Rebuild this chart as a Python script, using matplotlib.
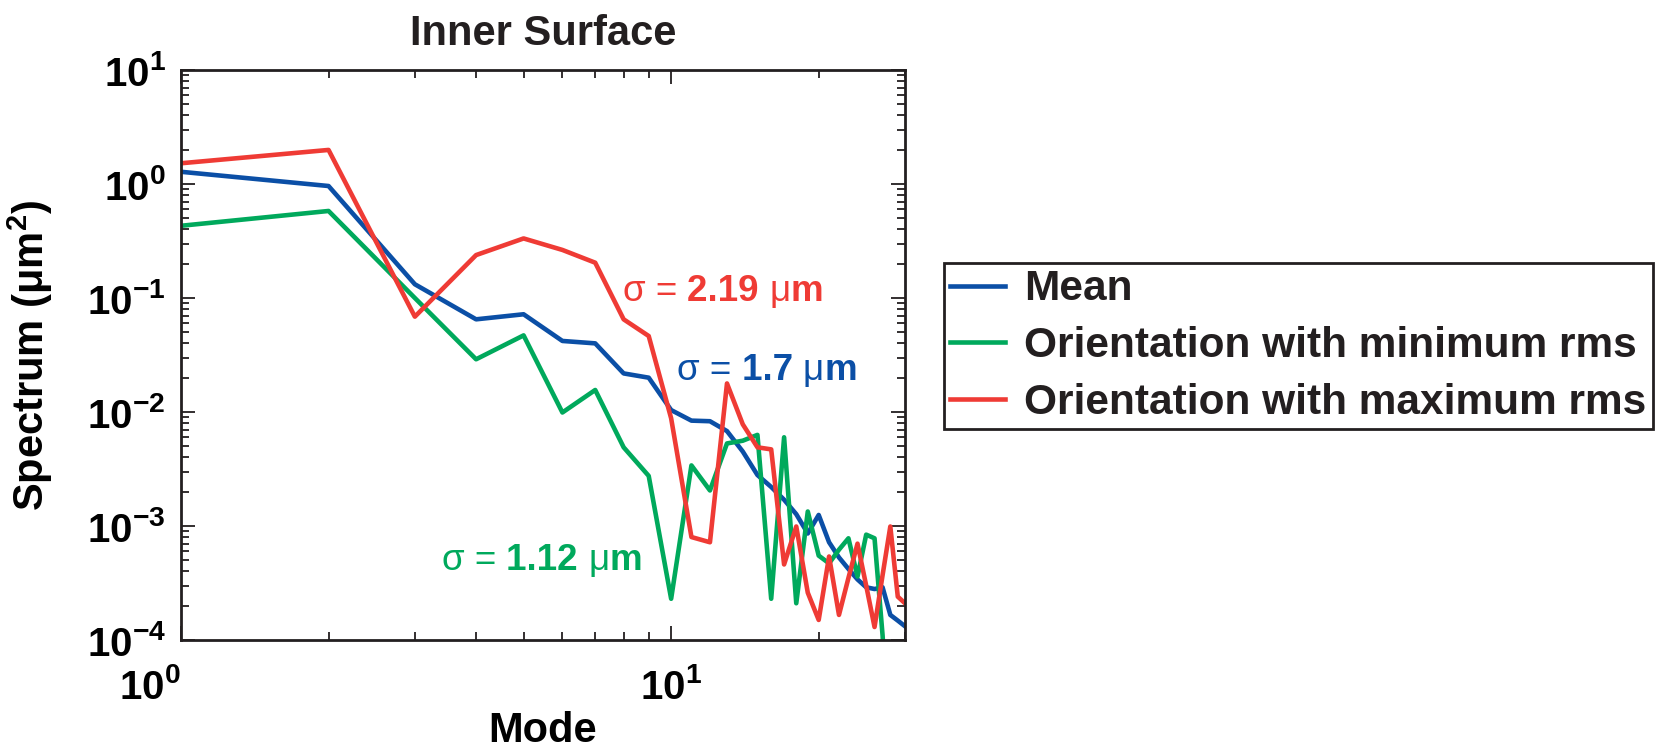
import matplotlib
matplotlib.use('Agg')
import matplotlib.pyplot as plt
from matplotlib.ticker import FixedLocator, FixedFormatter, NullFormatter, LogLocator
import numpy as np

plt.rcParams['font.family'] = ['Liberation Sans', 'DejaVu Sans']
plt.rcParams['font.weight'] = 'bold'
plt.rcParams['mathtext.fontset'] = 'custom'
plt.rcParams['mathtext.rm'] = 'Liberation Sans:bold'
plt.rcParams['mathtext.bf'] = 'Liberation Sans:bold'
plt.rcParams['mathtext.it'] = 'Liberation Sans:bold'
plt.rcParams['text.color'] = '#231f20'

# spectrum vs mode
modes = np.arange(1, 31)
mean_spec = [1.28, 0.96, 0.132, 0.065, 0.072, 0.042, 0.040, 0.0218, 0.020, 0.0104,
             0.0084, 0.0083, 0.0068, 0.0045, 0.0028, 0.0022, 0.0017, 0.00127, 0.00086, 0.00125,
             0.00072, 0.00053, 0.00042, 0.00034, 0.00029, 0.00028, 0.00029, 0.000166, 0.000148, 0.000132]
min_modes = np.arange(1, 29)
min_spec = [0.43, 0.58, 0.10, 0.029, 0.047, 0.0099, 0.0156, 0.0049, 0.00275, 0.00023,
            0.0034, 0.00205, 0.0053, 0.0056, 0.0063, 0.00023, 0.0060, 0.00021, 0.00134, 0.00055,
            0.00047, 0.00062, 0.00078, 0.00036, 0.00084, 0.00078, 0.00011, 0.00001]
max_spec = [1.52, 1.99, 0.0686, 0.238, 0.333, 0.264, 0.204, 0.065, 0.0464, 0.0088,
            0.00080, 0.00072, 0.0178, 0.0078, 0.0049, 0.0047, 0.00046, 0.00099, 0.00026, 0.00015,
            0.00054, 0.000166, 0.00035, 0.00070, 0.00030, 0.00013, 0.00037, 0.00099, 0.00024, 0.00021]

series_labels = ['Mean', 'Orientation with minimum rms', 'Orientation with maximum rms']
sigma_vals = ['1.7', '1.12', '2.19']
colors = ['#0b4fa6', '#00a95c', '#ef3b35']

y_ticks = [1e-4, 1e-3, 1e-2, 1e-1, 1e0, 1e1]
y_ticklabels = [r'$10^{-4}$', r'$10^{-3}$', r'$10^{-2}$', r'$10^{-1}$', r'$10^{0}$', r'$10^{1}$']
x_ticks = [1, 10]
x_ticklabels = [r'$10^{0}$', r'$10^{1}$']

fig = plt.figure(figsize=(16.71, 7.52), dpi=100)
ax = fig.add_axes([181 / 1671, 1 - 640 / 752, 724 / 1671, 570 / 752])

ax.plot(modes, mean_spec, color=colors[0], lw=3.3, label=series_labels[0])
ax.plot(min_modes, min_spec, color=colors[1], lw=3.3, label=series_labels[1])
ax.plot(modes, max_spec, color=colors[2], lw=3.3, label=series_labels[2])

ax.set_xscale('log')
ax.set_yscale('log')
ax.set_xlim(1, 30)
ax.set_ylim(1e-4, 1e1)

ax.yaxis.set_major_locator(FixedLocator(y_ticks))
ax.yaxis.set_major_formatter(FixedFormatter(y_ticklabels))
ax.yaxis.set_minor_locator(LogLocator(base=10, subs=np.arange(2, 10)))
ax.yaxis.set_minor_formatter(NullFormatter())
ax.xaxis.set_major_locator(FixedLocator(x_ticks))
ax.xaxis.set_major_formatter(FixedFormatter(x_ticklabels))
ax.xaxis.set_minor_locator(LogLocator(base=10, subs=np.arange(2, 10)))
ax.xaxis.set_minor_formatter(NullFormatter())

for s in ax.spines.values():
    s.set_linewidth(2)
    s.set_color('#231f20')
ax.tick_params(which='both', direction='in', top=True, right=True, color='#231f20', width=1.3)
ax.tick_params(which='major', length=10)
ax.tick_params(which='minor', length=5.5)
ax.tick_params(axis='y', which='major', labelsize=29, pad=11)
ax.tick_params(axis='x', which='major', labelsize=29, pad=20)
ax.get_xticklabels()[0].set_ha('right')

ax.set_title('Inner Surface', fontsize=30, fontweight='bold', pad=18)
ax.set_xlabel('Mode', fontsize=30, fontweight='bold')
ax.xaxis.set_label_coords(0.5, -0.125)
ax.set_ylabel('Spectrum (μm$^{2}$)', fontsize=30, fontweight='bold')
ax.yaxis.set_label_coords(-0.174, 0.5)

# sigma annotations: symbol in regular weight, value in bold
def sigma_label(x, y, val, color):
    t1 = ax.text(x, y, 'σ = ', transform=ax.transAxes, fontsize=26.5, fontweight='normal',
                 color=color, va='bottom')
    t2 = ax.annotate(val + ' ', xy=(1, 0), xycoords=t1, fontsize=26.5, fontweight='bold',
                     color=color, va='bottom')
    t3 = ax.annotate('μ', xy=(1, 0), xycoords=t2, fontsize=26.5, fontweight='normal',
                     color=color, va='bottom')
    ax.annotate('m', xy=(1, 0), xycoords=t3, fontsize=26.5, fontweight='bold',
                color=color, va='bottom')

sigma_label(0.610, 0.580, sigma_vals[2], colors[2])
sigma_label(0.685, 0.442, sigma_vals[0], colors[0])
sigma_label(0.360, 0.109, sigma_vals[1], colors[1])

leg = ax.legend(loc='center left', bbox_to_anchor=(944 / 1671, 1 - 346 / 752),
                bbox_transform=fig.transFigure, fontsize=30.5, frameon=True, fancybox=False,
                framealpha=1, edgecolor='#231f20', handlelength=1.3, handletextpad=0.45,
                labelspacing=0.39, borderpad=0.15, borderaxespad=0)
leg.get_frame().set_linewidth(2)

fig.savefig('out.png', dpi=100)
